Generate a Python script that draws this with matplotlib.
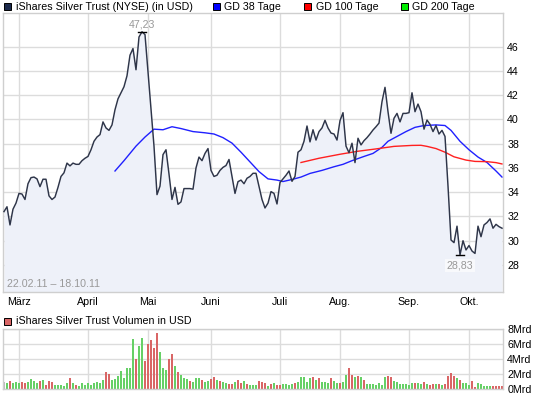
import numpy as np
import matplotlib
matplotlib.use("Agg")
import matplotlib.pyplot as plt
from matplotlib.patches import Rectangle

plt.rcParams['font.family'] = ['Liberation Sans', 'DejaVu Sans']

# ===== data (one value per trading day 22.02.11 - 18.10.11) =====
price = [
    32.4, 32.8, 31.3, 32.6, 33.1, 33.9, 33.85, 33.4, 34.7, 35.2,
    35.25, 35.1, 34.46, 35.07, 35.07, 33.7, 33.4, 33.6, 34.4, 35.3,
    35.6, 36.4, 36.17, 36.4, 36.3, 36.3, 36.6, 36.8, 36.95, 37.5,
    38.2, 38.55, 38.75, 39.8, 39.3, 39.1, 39.55, 40.8, 41.7, 42.2,
    42.7, 43.6, 45.3, 45.85, 44.1, 46.8, 47.23, 47.0, 43.9, 40.9,
    37.8, 33.8, 34.5, 37.1, 37.5, 35.5, 33.4, 34.4, 33.0, 33.2,
    34.3, 34.3, 34.3, 34.25, 36.0, 36.9, 36.6, 37.2, 37.6, 35.8,
    35.3, 35.4, 35.8, 36.05, 36.2, 36.7, 35.3, 33.9, 34.87, 35.0,
    34.7, 35.15, 35.3, 35.56, 35.56, 34.46, 33.4, 32.7, 33.1, 34.05,
    33.9, 33.03, 34.8, 35.1, 35.4, 35.75, 34.9, 35.3, 37.3, 37.5,
    38.2, 39.46, 38.15, 39.15, 38.3, 39.0, 39.3, 39.93, 39.3, 38.88,
    38.8, 38.3, 39.9, 40.56, 37.8, 37.26, 38.04, 36.44, 38.45, 37.9,
    38.25, 38.5, 38.8, 39.13, 39.4, 39.7, 41.47, 42.65, 40.64, 38.86,
    40.1, 40.5, 39.8, 40.5, 40.5, 40.56, 42.2, 40.64, 41.27, 40.64,
    39.2, 39.95, 39.6, 39.0, 39.5, 38.8, 39.1, 38.6, 34.5, 30.06,
    29.84, 31.2, 28.83, 30.0, 29.24, 29.6, 29.15, 28.95, 31.2, 30.33,
    31.3, 31.5, 31.8, 31.03, 31.35, 31.16, 31.03,
]

# GD 38 Tage (read at selected days)
ma38_day = [37, 40, 44, 47, 50, 53, 56, 59, 63, 67, 70, 73, 76, 79, 82, 85, 88, 91,
            93, 96, 99, 102, 106, 110, 113, 116, 120, 123, 126, 128, 131, 134, 137,
            140, 144, 147, 149, 152, 155, 158, 161, 164, 166]
ma38 = [35.75, 36.6, 37.8, 38.55, 39.2, 39.15, 39.4, 39.25, 39.0, 38.9, 38.8, 38.5,
        38.05, 37.3, 36.5, 35.7, 35.1, 35.0, 34.88, 35.05, 35.25, 35.55, 35.8, 36.1,
        36.3, 36.6, 36.95, 37.2, 37.7, 38.2, 38.6, 39.0, 39.35, 39.5, 39.55, 39.5,
        39.1, 38.2, 37.5, 36.9, 36.45, 35.75, 35.25]

# GD 100 Tage
ma100_day = [99, 105, 112, 118, 124, 130, 136, 139, 141, 144, 147, 150, 154, 157, 161, 164, 166]
ma100 = [36.45, 36.8, 37.13, 37.38, 37.57, 37.78, 37.86, 37.87, 37.78, 37.6, 37.3,
         36.92, 36.65, 36.54, 36.52, 36.44, 36.33]

# volume in Mrd USD, colour code per day: n = first day, g = up, r = down
volume = [
    1.02, 0.9, 1.15, 0.9, 1.0, 0.9, 1.0, 0.9, 1.0, 1.4,
    1.1, 0.9, 1.15, 1.25, 0.6, 1.1, 1.0, 0.6, 0.6, 0.6,
    0.45, 0.9, 1.55, 0.9, 0.6, 0.45, 0.9, 0.6, 0.8, 0.6,
    0.9, 1.0, 0.8, 1.25, 2.3, 2.05, 1.25, 1.4, 1.8, 2.45,
    1.55, 2.9, 2.9, 6.7, 4.05, 5.8, 6.8, 3.8, 6.1, 6.6,
    5.45, 7.55, 5.0, 2.9, 2.6, 4.0, 4.7, 3.1, 2.3, 1.9,
    1.45, 1.35, 1.15, 1.0, 1.45, 1.55, 1.25, 1.0, 1.15, 1.35,
    1.7, 1.25, 1.15, 1.0, 0.9, 0.7, 0.7, 1.0, 1.25, 0.9,
    1.15, 0.7, 0.6, 0.6, 0.6, 1.15, 1.0, 0.9, 0.45, 0.7,
    0.8, 0.6,
    0.6, 0.7, 0.7, 0.6, 0.7, 0.9, 1.0, 1.6, 1.6, 1.0,
    1.45, 1.6, 1.25, 1.45, 1.0, 1.0, 0.8, 1.45, 1.15, 0.9,
    0.9, 1.0, 1.9, 2.8, 1.9, 1.6, 1.8, 1.6, 1.25, 0.7,
    0.7, 0.7, 0.6, 0.9, 0.6, 1.6, 1.8, 1.7, 1.1, 1.0,
    0.7, 0.7, 0.7, 0.6, 0.9, 0.9, 0.8, 0.7, 1.0, 0.7,
    0.6, 0.7, 0.7, 0.7, 0.6, 0.7, 1.8, 2.2, 1.8, 1.45,
    1.25, 0.9, 0.8, 0.6, 1.15, 0.25, 0.9, 0.7, 0.45, 0.45,
    0.45, 0.45, 0.45, 0.45, 0.45,
]
vol_dir = ("ngrgggrrgg" "ggrgrrrggg" "ggrgrggggg" "ggggrrgggg" "ggggrggrrr"
           "rrgggrrgrg" "ggrgggrggr" "rgrggrrgrr" "grgggrrrgr" "gr"
           "rggggrgggg" "grgrgggrgg" "rggrrgrgrg" "ggggggrrgg" "gggggrggrg"
           "rrgrgrrrrg" "rgggrrgggg" "grrrr")

month_pos = [5, 28, 48, 69, 92, 112, 135, 155]
month_labels = ["März", "April", "Mai", "Juni", "Juli", "Aug.", "Sep.", "Okt."]
price_ticks = [28, 30, 32, 34, 36, 38, 40, 42, 44, 46]
vol_ticks = [0, 2, 4, 6, 8]
vol_tick_labels = ["0Mrd", "2Mrd", "4Mrd", "6Mrd", "8Mrd"]
date_range = "22.02.11 – 18.10.11"

# ===== style =====
W, H = 545, 398
GRID = "#dcdcdc"
LINE = "#2e3549"
FILL = "#eef1f9"
GREEN = "#66d066"
RED = "#d96666"
GREY = "#999999"
FS = 7.7


def fig_box(x0, y0, x1, y1):
    # pixel box (top-left origin) -> figure fraction rect
    return [x0 / W, 1 - y1 / H, (x1 - x0) / W, (y1 - y0) / H]


def style_axis(ax):
    for s in ax.spines.values():
        s.set_color("#cfcfcf")
        s.set_linewidth(1)
    ax.grid(True, color=GRID, lw=1)
    ax.set_axisbelow(True)
    ax.tick_params(length=0, labelsize=FS, colors="black")
    ax.yaxis.tick_right()


fig = plt.figure(figsize=(W / 100, H / 100), dpi=100)

x = np.arange(len(price))
xlim = (-0.43, len(price) - 0.67)

# ----- price panel -----
ax = fig.add_axes(fig_box(2.7, 13, 503, 292))
style_axis(ax)
ylo, yhi = 25.77, 48.78
ax.fill_between(x, price, ylo, color=FILL, lw=0, zorder=1)
ax.plot(x, price, color=LINE, lw=1.05, zorder=3)
ax.plot(ma38_day, ma38, color="#2020ff", lw=1.0, zorder=2)
ax.plot(ma100_day, ma100, color="#ff2020", lw=1.0, zorder=2)
ax.set_xlim(*xlim)
ax.set_ylim(ylo, yhi)
ax.set_yticks(price_ticks)
ax.set_xticks(month_pos)
ax.set_xticklabels(month_labels)
ax.tick_params(axis="x", pad=3.5)
ax.tick_params(axis="y", pad=3)

# high / low markers
hi_i = int(np.argmax(price))
lo_i = int(np.argmin(price))
for i in (hi_i, lo_i):
    ax.plot([i - 1.4, i + 1.4], [price[i], price[i]], color="black", lw=1, zorder=4)
ax.annotate(f"{price[hi_i]:.2f}".replace(".", ","), (hi_i, price[hi_i]),
            xytext=(0, 2), textcoords="offset points", ha="center", va="bottom",
            fontsize=FS, color=GREY)
ax.annotate(f"{price[lo_i]:.2f}".replace(".", ","), (lo_i, price[lo_i]),
            xytext=(0, -4), textcoords="offset points", ha="center", va="top",
            fontsize=FS, color=GREY,
            bbox=dict(facecolor="white", alpha=0.6, edgecolor="none", pad=1))
ax.text(0.009, 0.012, date_range, transform=ax.transAxes, ha="left", va="bottom",
        fontsize=FS, color=GREY)

# ----- volume panel -----
axv = fig.add_axes(fig_box(2.7, 329.3, 503, 389.3))
style_axis(axv)
cmap = {"n": "#bbbbbb", "g": GREEN, "r": RED}
axv.bar(x, volume, width=0.68, color=[cmap[c] for c in vol_dir], lw=0, zorder=2)
axv.set_xlim(*xlim)
axv.set_ylim(0, 8)
axv.set_yticks(vol_ticks)
axv.set_yticklabels(vol_tick_labels)
axv.set_xticks(month_pos)
axv.set_xticklabels([])
axv.tick_params(axis="y", pad=3)

# ----- legends -----
def legend_item(x0, yc, colour, label):
    fig.patches.append(Rectangle(((x0) / W, 1 - (yc + 3.5) / H), 7 / W, 7 / H,
                                 transform=fig.transFigure, facecolor=colour,
                                 edgecolor="black", lw=0.7))
    fig.text((x0 + 11.5) / W, 1 - yc / H, label, ha="left", va="center", fontsize=FS)


legend_item(4, 6.5, "#1c2a4c", "iShares Silver Trust (NYSE) (in USD)")
legend_item(212.5, 6.5, "#0000ff", "GD 38 Tage")
legend_item(304, 6.5, "#ff0000", "GD 100 Tage")
legend_item(401, 6.5, "#00ee00", "GD 200 Tage")
legend_item(4, 321.5, RED, "iShares Silver Trust Volumen in USD")

fig.savefig("out.png", dpi=100)
